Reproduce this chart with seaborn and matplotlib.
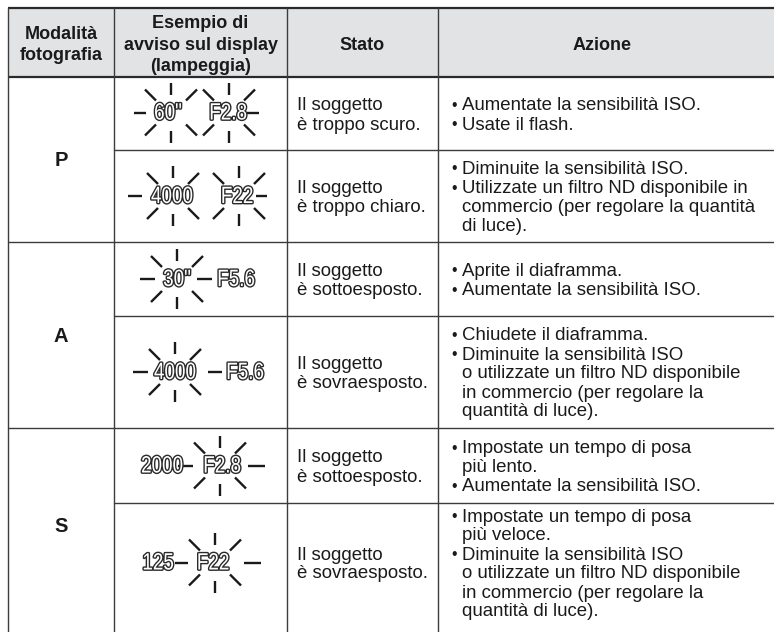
import matplotlib
matplotlib.use("Agg")
import matplotlib.pyplot as plt
import matplotlib.patheffects as pe
from matplotlib.transforms import Affine2D
import seaborn as sns

# ---------------- data ----------------
headers = ["Modalità\nfotografia", "Esempio di\navviso sul display\n(lampeggia)", "Stato", "Azione"]
modes = ["P", "A", "S"]
display_left = ['60"', "4000", '30"', "4000", "2000", "125"]
display_right = ["F2.8", "F22", "F5.6", "F5.6", "F2.8", "F22"]
stato = [
    ["Il soggetto", "è troppo scuro."],
    ["Il soggetto", "è troppo chiaro."],
    ["Il soggetto", "è sottoesposto."],
    ["Il soggetto", "è sovraesposto."],
    ["Il soggetto", "è sottoesposto."],
    ["Il soggetto", "è sovraesposto."],
]
azione = [
    [("•", "Aumentate la sensibilità ISO."), ("•", "Usate il flash.")],
    [("•", "Diminuite la sensibilità ISO."), ("•", "Utilizzate un filtro ND disponibile in"),
     ("", "commercio (per regolare la quantità"), ("", "di luce).")],
    [("•", "Aprite il diaframma."), ("•", "Aumentate la sensibilità ISO.")],
    [("•", "Chiudete il diaframma."), ("•", "Diminuite la sensibilità ISO"),
     ("", "o utilizzate un filtro ND disponibile"), ("", "in commercio (per regolare la"),
     ("", "quantità di luce).")],
    [("•", "Impostate un tempo di posa"), ("", "più lento."), ("•", "Aumentate la sensibilità ISO.")],
    [("•", "Impostate un tempo di posa"), ("", "più veloce."), ("•", "Diminuite la sensibilità ISO"),
     ("", "o utilizzate un filtro ND disponibile"), ("", "in commercio (per regolare la"),
     ("", "quantità di luce).")],
]

# ---------------- layout ----------------
col_edges = [8, 114, 287, 438, 790]
row_edges = [8, 77, 150, 242, 316, 428, 503, 622]
mode_rows = [(1, 3), (3, 5), (5, 7)]
# icon layout per row: x of left text, x of right text, bursts (cx, left ray, right ray)
icon_layout = [
    (168, 228, [(171, (-37, -25), None), (229, None, (18, 30))]),
    (172, 237, [(173, (-45, -31), None), (239, None, (17, 28))]),
    (177, 236, [(177, (-37, -22), (20, 35))]),
    (175, 245, [(175, (-42, -27), (33, 47))]),
    (162, 222, [(220, (-42, -27), (28, 45))]),
    (158, 213, [(215, (-40, -27), (29, 46))]),
]

sns.set_theme(style="white")
plt.rcParams["font.family"] = ["Liberation Sans", "DejaVu Sans"]


class _HScaleMixin:
    def _aff(self, tpath, affine):
        ext = affine.transform_path(tpath).get_extents()
        cx = (ext.x0 + ext.x1) / 2
        return affine + Affine2D().translate(-cx, 0).scale(self.sx, 1).translate(cx, 0)


class HScaleStroke(_HScaleMixin, pe.AbstractPathEffect):
    """Outline drawn on a horizontally condensed copy of the text path."""
    def __init__(self, sx, linewidth, foreground):
        super().__init__()
        self.sx, self.lw, self.fg = sx, linewidth, foreground

    def draw_path(self, renderer, gc, tpath, affine, rgbFace=None):
        gc0 = renderer.new_gc()
        gc0.copy_properties(gc)
        gc0.set_linewidth(self.lw)
        gc0.set_foreground(self.fg)
        gc0.set_joinstyle("round")
        renderer.draw_path(gc0, tpath, self._aff(tpath, affine), rgbFace)
        gc0.restore()


class HScaleFill(_HScaleMixin, pe.AbstractPathEffect):
    def __init__(self, sx):
        super().__init__()
        self.sx = sx

    def draw_path(self, renderer, gc, tpath, affine, rgbFace=None):
        gc0 = renderer.new_gc()
        gc0.copy_properties(gc)
        gc0.set_linewidth(0)
        renderer.draw_path(gc0, tpath, self._aff(tpath, affine), rgbFace)
        gc0.restore()


W, H = 774, 632
fig = plt.figure(figsize=(W / 100, H / 100), dpi=100)
ax = fig.add_axes([0, 0, 1, 1])
ax.set_xlim(0, W)
ax.set_ylim(H, 0)
ax.axis("off")

line_c = "#3c3c3c"
FS = 13
FSB = 13.4

# header background
ax.fill_between([col_edges[0], col_edges[-1]], row_edges[0], row_edges[1], color="#e2e3e5", lw=0, zorder=0)

# grid lines
ax.plot([col_edges[0], col_edges[-1]], [row_edges[0]] * 2, color="#2a2a2a", lw=1.6, solid_capstyle="butt")
ax.plot([col_edges[0], col_edges[-1]], [row_edges[1]] * 2, color="#2a2a2a", lw=1.6, solid_capstyle="butt")
for ci, xe in enumerate(col_edges[:-1]):
    ax.plot([xe, xe], [row_edges[0], H + 5], color=line_c, lw=1.0)
for ri in range(2, len(row_edges) - 1):
    x0 = col_edges[0] if ri in (3, 5) else col_edges[1]
    ax.plot([x0, col_edges[-1]], [row_edges[ri]] * 2, color=line_c, lw=1.0)

# header text
pitch_h = 21.5
hy = (row_edges[0] + row_edges[1]) / 2 + 0.5
for ci, htxt in enumerate(headers):
    cx = (col_edges[ci] + col_edges[ci + 1]) / 2
    if ci == 3:
        cx = (438 + 766) / 2
    lines = htxt.split("\n")
    for li, ln in enumerate(lines):
        y = hy + (li - (len(lines) - 1) / 2) * pitch_h
        ax.text(cx, y, ln, ha="center", va="center_baseline", fontsize=FS, fontweight="bold", color="#1a1a1a")

# modes
for m, (r0, r1) in zip(modes, mode_rows):
    ax.text((col_edges[0] + col_edges[1]) / 2, (row_edges[r0] + row_edges[r1 + 0]) / 2 + 1, m,
            ha="center", va="center", fontsize=FS + 1.5, fontweight="bold", color="#1a1a1a")

# display icons
ray_c = "#1a1a1a"
SX = 0.8
for i in range(6):
    cy = (row_edges[i + 1] + row_edges[i + 2]) / 2 + (-1 if i == 0 else 0)
    xl, xr, bursts = icon_layout[i]
    for cx, lray, rray in bursts:
        segs = [((0, -30), (0, -18)), ((0, 18), (0, 30))]
        for sx in (-1, 1):
            for sy in (-1, 1):
                segs.append(((sx * 15, sy * 12), (sx * 26, sy * 23)))
        if lray:
            segs.append(((lray[0], 0), (lray[1], 0)))
        if rray:
            segs.append(((rray[0], 0), (rray[1], 0)))
        for (a, b) in segs:
            ax.plot([cx + a[0], cx + b[0]], [cy + a[1], cy + b[1]], color=ray_c, lw=1.7,
                    solid_capstyle="butt", zorder=2)
    for x, t in ((xl, display_left[i]), (xr, display_right[i])):
        ax.text(x, cy + 1, t, ha="center", va="center", family=["Liberation Sans", "DejaVu Sans"],
                fontsize=17, color="white", zorder=3,
                path_effects=[HScaleStroke(SX, 2.0, "#2a2a2a"), HScaleFill(SX)])

# stato & azione
pitch = 19.0
for i in range(6):
    cy = (row_edges[i + 1] + row_edges[i + 2]) / 2
    n = len(stato[i])
    for li, ln in enumerate(stato[i]):
        y = cy + (li - (n - 1) / 2) * pitch
        ax.text(297, y, ln, ha="left", va="center_baseline", fontsize=FSB, color="#1a1a1a")
    n = len(azione[i])
    for li, (b, ln) in enumerate(azione[i]):
        y = cy + (li - (n - 1) / 2) * pitch
        if b:
            ax.text(451, y, b, ha="left", va="center_baseline", fontsize=FSB - 2, color="#1a1a1a")
        ax.text(462, y, ln, ha="left", va="center_baseline", fontsize=FSB, color="#1a1a1a")

fig.savefig("out.png", dpi=100, facecolor="white")
